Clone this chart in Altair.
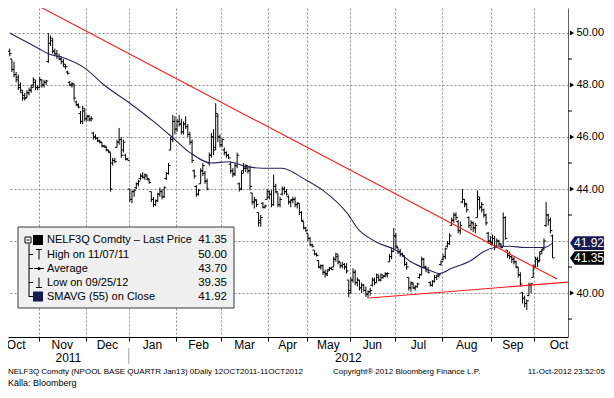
import altair as alt
import numpy as np
import pandas as pd

FONT = "Liberation Sans, Arial, Helvetica, sans-serif"

# ---------------- data ----------------
FIRST_DATE = "2011-10-12"
HOLIDAYS = ["2011-12-26", "2011-12-30", "2012-04-05", "2012-04-06",
            "2012-04-09", "2012-05-01", "2012-05-17", "2012-05-28"]

OPEN = [
    49.3, 49.0, 48.6, 48.4, 48.3, 48.0, 47.7, 47.6, 47.5, 47.7, 47.8, 48.0, 48.1, 47.9,
    47.9, 48.2, 48.0, 48.1, 48.9, 49.6, 49.7, 49.3, 49.2, 49.1, 49.0, 48.9, 48.7, 48.5, 48.1, 48.0, 48.0, 47.35, 47.2, 46.9, 46.6, 47.0,
    46.7, 46.8, 46.7, 46.15, 46.0, 45.95, 45.85, 45.8, 45.65, 45.6, 45.5, 45.4, 45.0, 45.1, 45.6, 45.8, 45.9, 45.5, 45.3, 45.15,
    44.0, 43.6, 43.9, 44.05, 44.2, 44.4, 44.5, 44.45, 44.5, 44.35, 43.9, 43.6, 43.4, 43.55, 43.8, 43.9, 43.7, 44.4, 44.6, 45.5, 45.9, 46.6,
    46.3, 46.6, 46.5, 46.2, 46.5, 46.4, 46.1, 45.8, 44.7, 44.1, 43.8, 44.2, 44.7, 44.6, 44.3, 45.0, 45.3, 46.0, 45.6, 46.8, 46.0,
    45.7, 45.5, 45.4, 45.3, 44.95, 44.7, 44.6, 44.9, 44.2, 44.0, 44.7, 44.8, 44.8, 44.7, 43.85, 43.5, 43.55, 43.1, 42.8, 43.45, 43.3, 43.6,
    43.7, 43.8, 43.4, 44.1, 43.85, 43.4, 43.8, 44.0, 43.9, 43.7, 43.5, 43.6, 43.6, 43.4, 43.45, 43.1, 42.75, 42.5,
    42.3, 42.1, 41.85, 41.65, 41.5, 41.25, 41.0, 41.05, 40.8, 40.75, 40.9, 40.95, 41.0, 41.3, 41.4, 41.2, 41.05, 41.1, 41.0, 40.5,
    40.1, 40.5, 40.8, 40.4, 40.5, 40.2, 40.3, 40.1, 39.95, 40.05, 40.3, 40.5, 40.4, 40.6, 40.5, 40.6, 40.65, 40.7, 41.2, 41.4, 41.6,
    42.2, 41.75, 41.6, 41.5, 41.4, 41.1, 40.6, 40.2, 40.35, 40.2, 40.25, 40.6, 40.7, 41.3, 41.0, 40.9, 40.4, 40.3, 40.45, 40.6, 40.7, 41.1,
    41.3, 41.4, 41.8, 41.9, 42.6, 42.8, 43.0, 42.75, 42.4, 43.5, 43.6, 43.4, 42.9, 42.6, 42.7, 42.5, 42.9, 43.6, 43.3, 43.2, 43.0, 42.3, 42.0,
    41.9, 42.1, 41.8, 42.0, 41.85, 41.8, 42.9, 41.65, 41.45, 41.4, 41.3, 41.2, 41.0, 40.7, 40.0, 39.8, 39.6, 39.9, 40.3, 40.6,
    41.0, 41.3, 41.25, 41.6, 41.7, 42.6, 43.0, 42.8, 42.2,
]
HIGH = [
    49.4, 49.0, 48.9, 48.5, 48.4, 48.1, 47.8, 47.7, 47.8, 47.9, 48.0, 48.3, 48.2, 48.0,
    48.3, 48.2, 48.2, 48.2, 50.0, 49.9, 49.8, 49.4, 49.35, 49.2, 49.1, 49.0, 48.8, 48.55, 48.15, 48.1, 48.05, 47.4, 47.3, 47.0, 47.2, 47.1,
    46.85, 46.85, 46.8, 46.2, 46.1, 46.0, 45.9, 45.8, 45.7, 45.65, 45.5, 45.4, 45.2, 45.2, 45.9, 46.35, 46.0, 45.9, 45.35, 45.2,
    44.0, 43.95, 44.0, 44.25, 44.35, 44.6, 44.65, 44.6, 44.55, 44.4, 43.9, 43.7, 43.6, 43.85, 44.05, 44.0, 44.1, 44.65, 45.0, 46.0, 46.85, 46.8,
    46.7, 46.85, 46.7, 46.6, 46.8, 46.5, 46.2, 45.9, 44.75, 44.15, 44.0, 44.8, 45.0, 44.7, 44.4, 45.4, 46.15, 46.3, 47.3, 46.9, 46.1,
    45.95, 45.6, 45.45, 45.35, 45.05, 44.8, 45.0, 45.4, 44.25, 44.7, 45.0, 44.95, 44.9, 44.9, 43.85, 43.7, 43.6, 43.1, 43.0, 43.5, 43.4, 44.0,
    43.95, 43.95, 44.55, 44.2, 43.85, 43.7, 44.1, 44.1, 44.0, 43.75, 43.6, 43.7, 43.7, 43.5, 43.45, 43.15, 42.75, 42.55,
    42.3, 42.15, 41.9, 41.65, 41.55, 41.25, 41.1, 41.1, 40.9, 40.9, 41.0, 41.0, 41.4, 41.55, 41.5, 41.2, 41.2, 41.15, 41.15, 40.5,
    40.6, 40.95, 40.9, 40.6, 40.5, 40.4, 40.35, 40.25, 40.1, 40.2, 40.6, 40.6, 40.75, 40.7, 40.75, 40.7, 40.8, 40.8, 41.5, 41.75, 42.5,
    42.3, 41.75, 41.7, 41.55, 41.45, 41.2, 40.6, 40.45, 40.4, 40.3, 40.4, 40.75, 41.4, 41.35, 41.05, 41.0, 40.45, 40.5, 40.7, 40.7, 40.75, 41.25,
    41.5, 41.75, 42.0, 42.3, 42.9, 43.1, 43.1, 42.8, 42.75, 44.0, 43.6, 43.45, 42.95, 42.8, 42.75, 42.7, 43.95, 43.7, 43.5, 43.25, 43.05, 42.35, 42.2,
    42.25, 42.2, 42.1, 42.05, 41.9, 43.1, 42.95, 41.65, 41.6, 41.45, 41.4, 41.25, 41.0, 40.8, 40.05, 39.9, 39.75, 40.4, 40.4, 41.1,
    41.4, 41.4, 41.6, 41.7, 42.1, 43.5, 43.05, 42.9, 42.25,
]
LOW = [
    49.1, 48.5, 48.3, 48.1, 47.8, 47.7, 47.4, 47.4, 47.5, 47.6, 47.7, 47.9, 47.8, 47.8,
    47.9, 47.9, 47.9, 48.0, 48.85, 49.5, 49.2, 49.1, 49.0, 48.95, 48.8, 48.7, 48.6, 48.4, 47.95, 47.9, 47.4, 47.2, 47.1, 46.5, 46.5, 46.6,
    46.6, 46.6, 46.6, 45.9, 45.9, 45.8, 45.75, 45.6, 45.6, 45.45, 45.4, 43.9, 44.9, 45.0, 45.6, 45.7, 45.2, 45.4, 45.1, 45.1,
    43.5, 43.45, 43.7, 44.0, 44.1, 44.35, 44.4, 44.35, 44.35, 44.2, 43.5, 43.3, 43.35, 43.5, 43.7, 43.6, 43.65, 44.35, 44.55, 45.5, 45.8, 46.1,
    46.2, 46.4, 46.1, 46.1, 46.3, 46.0, 45.7, 45.0, 44.4, 43.7, 43.75, 44.2, 44.5, 44.2, 43.95, 44.9, 45.2, 45.3, 45.5, 45.8, 45.6,
    45.6, 45.3, 45.2, 45.15, 44.6, 44.45, 44.5, 44.8, 43.9, 43.95, 44.6, 44.65, 44.6, 43.95, 43.4, 43.25, 43.3, 42.55, 42.55, 43.25, 43.25, 43.6,
    43.6, 43.3, 43.35, 43.85, 43.3, 43.3, 43.75, 43.8, 43.75, 43.4, 43.3, 43.45, 43.3, 43.25, 43.0, 42.75, 42.45, 42.35,
    42.0, 41.8, 41.75, 41.45, 41.4, 40.95, 40.9, 40.7, 40.6, 40.65, 40.85, 40.9, 41.0, 41.2, 41.1, 40.95, 40.95, 40.9, 40.75, 39.85,
    40.0, 40.4, 40.3, 40.25, 40.1, 40.0, 40.05, 39.85, 39.8, 39.9, 40.25, 40.3, 40.4, 40.45, 40.45, 40.55, 40.6, 40.6, 41.2, 41.3, 41.6,
    41.7, 41.5, 41.4, 41.4, 41.05, 40.9, 40.1, 40.05, 40.15, 40.1, 40.2, 40.55, 40.7, 40.95, 40.8, 40.75, 40.25, 40.25, 40.4, 40.5, 40.6, 41.05,
    41.25, 41.3, 41.75, 41.85, 42.6, 42.7, 42.8, 42.3, 42.25, 43.45, 43.3, 43.1, 42.5, 42.4, 42.35, 42.3, 42.9, 43.2, 43.1, 42.9, 42.6, 41.9, 41.85,
    41.85, 41.65, 41.75, 41.8, 41.7, 41.8, 42.05, 41.35, 41.3, 41.15, 41.1, 40.95, 40.6, 40.25, 39.6, 39.45, 39.35, 39.9, 40.0, 40.6,
    40.95, 41.0, 41.2, 41.5, 41.65, 42.55, 42.6, 42.3, 41.35,
]
CLOSE = [
    49.2, 48.6, 48.4, 48.2, 47.9, 47.8, 47.5, 47.5, 47.7, 47.8, 47.9, 48.2, 47.9, 47.9,
    48.2, 48.0, 48.1, 48.15, 49.6, 49.8, 49.3, 49.2, 49.1, 49.0, 48.9, 48.8, 48.7, 48.45, 48.0, 48.05, 47.5, 47.25, 47.15, 46.6, 47.1, 46.7,
    46.8, 46.65, 46.7, 46.0, 45.95, 45.85, 45.8, 45.65, 45.65, 45.5, 45.45, 44.0, 45.1, 45.05, 45.8, 45.9, 45.3, 45.8, 45.15, 45.1,
    43.6, 43.9, 43.95, 44.2, 44.3, 44.5, 44.45, 44.55, 44.4, 44.25, 43.6, 43.4, 43.55, 43.8, 43.9, 43.7, 44.05, 44.6, 44.9, 45.9, 46.6, 46.3,
    46.6, 46.5, 46.2, 46.5, 46.4, 46.1, 45.8, 45.1, 44.5, 43.8, 43.95, 44.7, 44.9, 44.3, 44.0, 45.3, 46.0, 45.5, 46.9, 46.0, 45.7,
    45.9, 45.4, 45.3, 45.2, 44.7, 44.55, 44.9, 45.3, 44.0, 44.6, 44.8, 44.9, 44.7, 44.1, 43.5, 43.6, 43.4, 42.7, 42.9, 43.3, 43.35, 43.9,
    43.8, 43.4, 44.1, 43.9, 43.4, 43.6, 44.0, 43.9, 43.8, 43.5, 43.55, 43.6, 43.4, 43.45, 43.1, 42.8, 42.5, 42.4,
    42.1, 41.85, 41.8, 41.5, 41.45, 41.0, 41.05, 40.8, 40.7, 40.85, 40.95, 40.9, 41.3, 41.5, 41.2, 41.05, 41.1, 41.0, 40.85, 40.0,
    40.5, 40.8, 40.4, 40.5, 40.2, 40.3, 40.1, 39.95, 40.05, 40.1, 40.5, 40.4, 40.7, 40.5, 40.7, 40.65, 40.75, 40.75, 41.4, 41.6, 42.2,
    41.8, 41.6, 41.5, 41.45, 41.1, 41.0, 40.2, 40.4, 40.2, 40.25, 40.35, 40.7, 41.3, 41.0, 40.9, 40.8, 40.3, 40.45, 40.6, 40.65, 40.7, 41.2,
    41.4, 41.7, 41.9, 42.2, 42.8, 43.0, 42.9, 42.4, 42.6, 43.6, 43.45, 43.2, 42.6, 42.7, 42.5, 42.6, 43.7, 43.3, 43.4, 43.0, 42.7, 42.0, 41.95,
    42.1, 41.8, 42.0, 41.9, 41.75, 42.9, 42.1, 41.45, 41.4, 41.3, 41.2, 41.0, 40.7, 40.35, 39.8, 39.6, 39.7, 40.3, 40.35, 41.0,
    41.3, 41.2, 41.5, 41.65, 42.0, 43.0, 42.8, 42.4, 41.35,
]

# SMAVG(55): (trading-day index, value)
MA_IDX = [0, 13.5, 18, 25, 35, 44, 56, 67, 77, 84, 94, 102, 111, 118, 127, 137,
          146, 157, 163, 167, 171, 180, 187, 195, 200, 206, 215, 221, 226, 233, 240, 249, 253]
MA_VAL = [50.0, 49.4, 49.2, 49.05, 48.65, 48.0, 47.3, 46.6, 45.9, 45.4, 45.0, 45.05, 44.85, 44.8, 44.8, 44.4,
          43.95, 43.1, 42.4, 42.15, 41.95, 41.65, 41.2, 40.9, 40.75, 40.95, 41.25, 41.6, 41.75, 41.8, 41.75, 41.75, 41.92]

# red trend lines: (index, price) end points
TREND_ID = ["down", "down", "up", "up"]
TREND_IDX = [8.5, 255.1, 167.5, 260.2]
TREND_VAL = [51.25, 40.54, 39.81, 40.42]

Y_TICKS = [40, 42, 44, 46, 48, 50]
Y_MINOR = [39, 41, 43, 45, 47, 49]
TAG_VAL = [41.92, 41.35]
TAG_TXT = ["41.92", "41.35"]
TAG_COL = ["#1a1a50", "#000000"]

LEGEND_LABELS = ["NELF3Q Comdty \u2013 Last Price", "High on 11/07/11", "Average",
                 "Low on 09/25/12", "SMAVG (55) on Close"]
LEGEND_VALUES = ["41.35", "50.00", "43.70", "39.35", "41.92"]

FOOT_LEFT = "NELF3Q Comdty  (NPOOL BASE QUARTR Jan13)  0Daily 12OCT2011-11OCT2012"
FOOT_MID = "Copyright\u00ae 2012 Bloomberg Finance L.P."
FOOT_RIGHT = "11-Oct-2012  23:52:05"
SOURCE = "K\u00e4lla: Bloomberg"

# ---------------- calendar / axis helpers ----------------
n = len(CLOSE)
assert len(OPEN) == n and len(HIGH) == n and len(LOW) == n
cal = pd.bdate_range("2011-10-03", "2012-10-31")
cal = cal[~cal.isin(pd.to_datetime(HOLIDAYS))]
start = int(cal.get_loc(pd.Timestamp(FIRST_DATE)))
cal_df = pd.DataFrame({"idx": np.arange(len(cal)) - start, "m": cal.to_period("M")})
g = cal_df.groupby("m")["idx"].agg(["min", "max"])
BOUNDS = [float(v) - 0.5 for v in g["min"].iloc[1:]]
month_df = pd.DataFrame({"pos": ((g["min"] + g["max"]) / 2.0).values,
                         "name": [p.strftime("%b") for p in g.index]})
jan_b = float(g.loc[pd.Period("2012-01", "M"), "min"]) - 0.5

XDOM = [-0.8, 260.2]
YDOM = [38.31, 50.96]
W, H = 560, 329

year_df = pd.DataFrame({"pos": [(XDOM[0] + jan_b) / 2, (jan_b + XDOM[1]) / 2],
                        "name": ["2011", "2012"]})

df = pd.DataFrame({"i": np.arange(n), "open": OPEN, "high": HIGH, "low": LOW, "close": CLOSE})
ma_df = pd.DataFrame({"i": MA_IDX, "v": MA_VAL})
tr_df = pd.DataFrame({"i": TREND_IDX, "v": TREND_VAL, "g": TREND_ID})
one = pd.DataFrame({"a": [0]})

xs = alt.Scale(domain=XDOM, nice=False, zero=False)
ys = alt.Scale(domain=YDOM, nice=False, zero=False)

xaxis = alt.Axis(values=BOUNDS, grid=True, gridDash=[2, 2], gridColor="#8c8c8c", gridWidth=1,
                 labels=False, ticks=True, tickSize=4, tickColor="#000000",
                 domainColor="#000000", title=None)
yaxis = alt.Axis(orient="right", values=Y_TICKS, grid=True, gridDash=[2, 2], gridColor="#8c8c8c",
                 gridWidth=1, ticks=False,
                 labelExpr="datum.value == 42 ? '' : format(datum.value, '.2f')",
                 labelFont=FONT, labelFontSize=11, labelColor="#000000", labelPadding=8,
                 domainColor="#606060", title=None)

X = lambda f: alt.X(f, scale=xs, title=None)
Y = lambda f: alt.Y(f, scale=ys, title=None)


def prule(x1, y1, x2, y2, color="#000000", w=1.0):
    return alt.Chart(one).mark_rule(color=color, strokeWidth=w).encode(
        x=alt.value(x1), x2=alt.value(x2), y=alt.value(y1), y2=alt.value(y2))


def prect(x1, y1, x2, y2, fill, stroke=None, w=1.0):
    kw = dict(fill=fill)
    if stroke:
        kw.update(stroke=stroke, strokeWidth=w)
    return alt.Chart(one).mark_rect(**kw).encode(
        x=alt.value(x1), x2=alt.value(x2), y=alt.value(y1), y2=alt.value(y2))


def ptext(s, x, y, size, align="left", color="#000000", baseline="middle"):
    return alt.Chart(one).mark_text(text=s, align=align, baseline=baseline, fontSize=size,
                                    font=FONT, color=color).encode(
        x=alt.value(x), y=alt.value(y))


layers = []

# price bars (this layer carries the axes)
layers.append(alt.Chart(df).mark_rule(color="#000000", strokeWidth=1).encode(
    x=alt.X("i:Q", scale=xs, axis=xaxis), y=alt.Y("low:Q", scale=ys, axis=yaxis), y2="high:Q"))
layers.append(alt.Chart(df).mark_rule(color="#000000", strokeWidth=1, xOffset=-2, x2Offset=0).encode(
    x=X("i:Q"), x2="i:Q", y=Y("open:Q")))
layers.append(alt.Chart(df).mark_rule(color="#000000", strokeWidth=1, xOffset=0, x2Offset=2).encode(
    x=X("i:Q"), x2="i:Q", y=Y("close:Q")))

# moving average and trend lines
layers.append(alt.Chart(ma_df).mark_line(color="#24245e", strokeWidth=1.1, interpolate="monotone").encode(
    x=X("i:Q"), y=Y("v:Q")))
layers.append(alt.Chart(tr_df).mark_line(color="#ff1a1a", strokeWidth=1.1, clip=True).encode(
    x=X("i:Q"), y=Y("v:Q"), detail="g:N"))

# legend box
LX0, LY0, LX1, LY1 = 10, 219, 226, 300
layers.append(prect(LX0, LY0, LX1, LY1, "#f0f0f0", "#3a3a3a", 1))
rows_y = [232, 246.5, 260.5, 274.5, 288.5]
for lab, val, ry in zip(LEGEND_LABELS, LEGEND_VALUES, rows_y):
    layers.append(ptext(lab, 39, ry, 11))
    layers.append(ptext(val, 219, ry, 11.5, align="right"))
# glyphs
layers.append(prule(21, 236, 21, 289))                     # tree line
for ry in rows_y[1:]:
    layers.append(prule(21, ry, 25, ry))
layers.append(prect(17, 229, 23, 235, "#ffffff", "#000000", 1))   # collapse box
layers.append(prule(18.5, 232, 21.5, 232))
layers.append(prect(25, 227, 35, 237, "#000000"))          # last price square
layers.append(prule(28, rows_y[1] - 5, 34, rows_y[1] - 5))   # high glyph
layers.append(prule(31, rows_y[1] - 5, 31, rows_y[1] + 5))
layers.append(prule(26, rows_y[2], 36, rows_y[2]))         # average glyph
layers.append(alt.Chart(one).mark_point(filled=True, color="#000000", size=10, opacity=1).encode(
    x=alt.value(31), y=alt.value(rows_y[2])))
layers.append(prule(31, rows_y[3] - 5, 31, rows_y[3] + 5))   # low glyph
layers.append(prule(28, rows_y[3] + 5, 34, rows_y[3] + 5))
layers.append(prect(25, rows_y[4] - 5, 35, rows_y[4] + 5, "#1a1a50"))  # smavg square

# right axis decorations
tick_df = pd.DataFrame({"v": [v for v in Y_TICKS if v != 42]})
layers.append(alt.Chart(tick_df).mark_point(shape="triangle-right", filled=True, color="#000000",
                                             size=24, opacity=1).encode(
    x=alt.value(W + 4), y=Y("v:Q")))
minor_df = pd.DataFrame({"v": Y_MINOR})
layers.append(alt.Chart(minor_df).mark_rule(color="#000000", strokeWidth=1).encode(
    x=alt.value(W), x2=alt.value(W + 4), y=Y("v:Q")))
tag_df = pd.DataFrame({"v": TAG_VAL, "t": TAG_TXT, "c": TAG_COL})
TAG_PATH = "M -1 0 L -0.72 -0.4 L 1 -0.4 L 1 0.4 L -0.72 0.4 Z"
layers.append(alt.Chart(tag_df).mark_point(shape=TAG_PATH, filled=True, size=34 * 34, opacity=1,
                                            strokeWidth=0).encode(
    x=alt.value(W + 19), y=Y("v:Q"), color=alt.Color("c:N", scale=None)))
layers.append(alt.Chart(tag_df).mark_text(font=FONT, fontSize=12, color="#ffffff", align="center",
                                           baseline="middle").encode(
    x=alt.value(W + 21), y=Y("v:Q"), text="t:N"))

# bottom: month labels, years, separator, footers
layers.append(alt.Chart(month_df).mark_text(font=FONT, fontSize=12, color="#000000",
                                             baseline="middle").encode(
    x=X("pos:Q"), y=alt.value(H + 8), text="name:N"))
layers.append(alt.Chart(year_df).mark_text(font=FONT, fontSize=12, color="#000000",
                                            baseline="middle").encode(
    x=X("pos:Q"), y=alt.value(H + 21), text="name:N"))
layers.append(alt.Chart(pd.DataFrame({"b": [jan_b]})).mark_rule(color="#a0a0a0", strokeWidth=1).encode(
    x=X("b:Q"), y=alt.value(H + 11), y2=alt.value(H + 27)))
layers.append(ptext(FOOT_LEFT, 0, H + 35, 8))
layers.append(ptext(FOOT_MID, 325, H + 35, 8))
layers.append(ptext(FOOT_RIGHT, 597, H + 35, 8, align="right"))
layers.append(ptext(SOURCE, 0, H + 46, 9))

chart = alt.layer(*layers).properties(
    width=W, height=H,
    autosize=alt.AutoSizeParams(type="none"),
    padding={"left": 0, "top": 0, "right": 38, "bottom": 53},
    background="#ffffff",
).configure_view(strokeWidth=0)

chart.save("out.html", embed_options={"renderer": "svg", "actions": False})
